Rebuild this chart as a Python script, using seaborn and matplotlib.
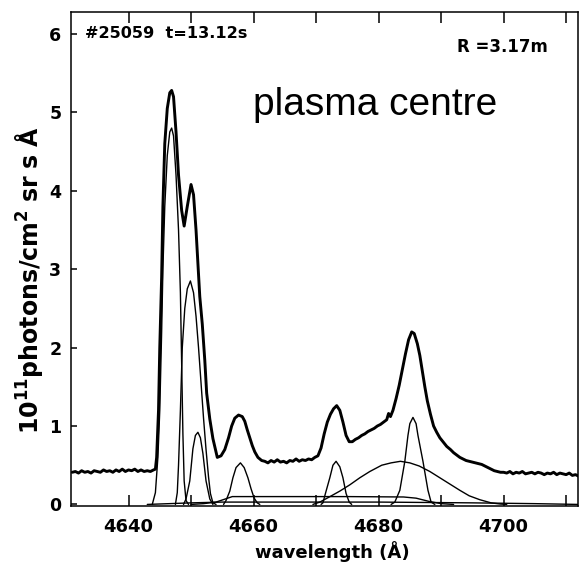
import numpy as np
import pandas as pd
import matplotlib
matplotlib.use("Agg")
import matplotlib.pyplot as plt
import seaborn as sns

# ---------------- data ----------------
spec_wl = [4631.0, 4631.5, 4632.0, 4632.5, 4633.0, 4633.5, 4634.0, 4634.5, 4635.0, 4635.5,
           4636.0, 4636.5, 4637.0, 4637.5, 4638.0, 4638.5, 4639.0, 4639.5, 4640.0, 4640.5,
           4641.0, 4641.5, 4642.0, 4642.5, 4643.0, 4643.5, 4644.0, 4644.3,
           4644.5, 4644.8, 4645.0, 4645.3, 4645.5, 4645.8, 4646.2, 4646.6, 4646.9, 4647.2,
           4647.6, 4648.0, 4648.5, 4648.9, 4649.4, 4650.0, 4650.4, 4650.8, 4651.4, 4651.8,
           4652.2, 4652.5, 4653.0, 4653.5, 4654.2, 4654.8, 4655.4, 4656.0, 4656.5, 4657.0,
           4657.6, 4658.2, 4658.6, 4659.0, 4659.4, 4659.8, 4660.2, 4660.7, 4661.3,
           4661.8, 4662.3, 4662.8, 4663.3, 4663.8, 4664.3, 4664.8, 4665.3, 4665.8, 4666.3,
           4666.8, 4667.3, 4667.8, 4668.3, 4668.8, 4669.3, 4669.8, 4670.3,
           4670.8, 4671.3, 4671.8, 4672.3, 4672.8, 4673.3, 4673.8, 4674.3, 4674.8, 4675.3,
           4675.8, 4676.3, 4676.8, 4677.3, 4677.8, 4678.3, 4678.8, 4679.3, 4679.8, 4680.3,
           4680.8, 4681.3, 4681.6, 4681.9, 4682.3, 4682.8, 4683.3, 4683.8, 4684.3, 4684.8,
           4685.3, 4685.7, 4686.2, 4686.6, 4687.0, 4687.4, 4687.8, 4688.3, 4688.8, 4689.3,
           4689.8, 4690.3, 4690.9, 4691.5, 4692.0, 4692.5, 4693.0, 4693.5, 4694.0, 4694.5,
           4695.0, 4695.5, 4696.0, 4696.5, 4697.0, 4697.5, 4698.0, 4698.5, 4699.0, 4699.5,
           4700.0, 4700.5, 4701.0, 4701.5, 4702.0, 4702.5, 4703.0, 4703.5, 4704.0, 4704.5,
           4705.0, 4705.5, 4706.0, 4706.5, 4707.0, 4707.5, 4708.0, 4708.5, 4709.0, 4709.5,
           4710.0, 4710.5, 4711.0, 4711.5, 4712.0]
spec_val = [0.41, 0.42, 0.40, 0.43, 0.41, 0.42, 0.40, 0.43, 0.42, 0.41,
            0.44, 0.42, 0.43, 0.41, 0.44, 0.42, 0.45, 0.42, 0.44, 0.43,
            0.45, 0.42, 0.44, 0.42, 0.43, 0.42, 0.44, 0.45,
            0.60, 1.20, 2.00, 2.90, 3.80, 4.60, 5.05, 5.25, 5.28, 5.20,
            4.75, 4.20, 3.75, 3.55, 3.80, 4.08, 3.95, 3.50, 2.65, 2.30,
            1.84, 1.42, 1.09, 0.84, 0.60, 0.62, 0.70, 0.85, 1.00, 1.10,
            1.14, 1.12, 1.06, 0.95, 0.85, 0.75, 0.67, 0.60, 0.56,
            0.55, 0.53, 0.56, 0.54, 0.57, 0.54, 0.55, 0.53, 0.56, 0.55,
            0.58, 0.55, 0.57, 0.56, 0.58, 0.57, 0.60, 0.62,
            0.72, 0.90, 1.05, 1.15, 1.22, 1.26, 1.20, 1.05, 0.88, 0.80,
            0.80, 0.83, 0.85, 0.88, 0.90, 0.93, 0.95, 0.97, 1.00, 1.02,
            1.05, 1.08, 1.16, 1.12, 1.20, 1.35, 1.52, 1.72, 1.92, 2.10,
            2.20, 2.18, 2.05, 1.90, 1.70, 1.50, 1.32, 1.15, 1.00, 0.92,
            0.85, 0.80, 0.74, 0.70, 0.66, 0.63, 0.60, 0.58, 0.56, 0.55,
            0.54, 0.53, 0.52, 0.51, 0.49, 0.47, 0.45, 0.43, 0.42, 0.41,
            0.41, 0.40, 0.42, 0.39, 0.41, 0.40, 0.42, 0.39, 0.40, 0.41,
            0.39, 0.41, 0.40, 0.38, 0.40, 0.39, 0.41, 0.38, 0.40, 0.39,
            0.38, 0.40, 0.37, 0.38, 0.36]

c1_wl = [4643.8, 4644.3, 4644.7, 4645.0, 4645.3, 4645.5, 4645.8, 4646.2, 4646.6, 4646.9,
         4647.2, 4647.6, 4648.0, 4648.3, 4648.5, 4648.7, 4648.9, 4649.2, 4649.6]
c1_val = [0.0, 0.15, 0.6, 1.2, 2.2, 3.0, 3.8, 4.45, 4.75, 4.8,
          4.7, 4.2, 3.5, 2.7, 1.8, 0.9, 0.3, 0.05, 0.0]

c2_wl = [4647.5, 4647.8, 4648.0, 4648.3, 4648.6, 4649.0, 4649.4, 4649.9, 4650.4, 4650.8,
         4651.2, 4651.6, 4652.0, 4652.4, 4652.8, 4653.1, 4653.5, 4654.0]
c2_val = [0.0, 0.15, 0.5, 1.2, 2.0, 2.5, 2.75, 2.85, 2.7, 2.4,
          2.0, 1.55, 1.1, 0.7, 0.35, 0.14, 0.02, 0.0]

c3_wl = [4648.8, 4649.2, 4649.8, 4650.3, 4650.7, 4651.1, 4651.5, 4651.9, 4652.4, 4653.0, 4653.5]
c3_val = [0.0, 0.07, 0.3, 0.71, 0.88, 0.92, 0.85, 0.65, 0.3, 0.07, 0.0]

c4_wl = [4655.2, 4655.6, 4656.2, 4656.7, 4657.2, 4657.9, 4658.5, 4659.1, 4659.6, 4660.1, 4660.6, 4661.0]
c4_val = [0.0, 0.05, 0.17, 0.34, 0.47, 0.53, 0.47, 0.34, 0.2, 0.08, 0.02, 0.0]

c5_wl = [4670.8, 4671.1, 4671.5, 4672.2, 4672.7, 4673.2, 4673.8, 4674.3, 4674.8, 4675.3, 4675.7]
c5_val = [0.0, 0.02, 0.14, 0.34, 0.5, 0.55, 0.48, 0.34, 0.14, 0.03, 0.0]

c6_wl = [4669.5, 4670.6, 4672.0, 4673.8, 4675.4, 4677.0, 4678.6, 4680.5, 4682.0, 4683.5,
         4685.0, 4686.5, 4688.2, 4689.8, 4691.4, 4693.0, 4694.5, 4696.2, 4698.0, 4699.5, 4700.5]
c6_val = [0.0, 0.03, 0.09, 0.17, 0.25, 0.34, 0.42, 0.5, 0.53, 0.55,
          0.53, 0.49, 0.42, 0.34, 0.26, 0.18, 0.11, 0.06, 0.02, 0.005, 0.0]

c7_wl = [4682.0, 4682.6, 4683.4, 4684.2, 4684.7, 4685.0, 4685.5, 4686.0, 4686.3, 4687.1, 4687.9, 4688.4, 4689.0]
c7_val = [0.0, 0.03, 0.18, 0.55, 0.88, 1.03, 1.11, 1.03, 0.88, 0.55, 0.18, 0.03, 0.0]

c8_wl = [4650.0, 4652.0, 4654.0, 4655.5, 4656.6, 4658.0, 4665.0, 4675.0, 4684.0, 4686.0, 4688.0, 4690.0, 4692.0]
c8_val = [0.0, 0.01, 0.03, 0.07, 0.1, 0.1, 0.1, 0.1, 0.095, 0.08, 0.04, 0.01, 0.0]

c9_wl = [4643.0, 4650.0, 4655.0, 4665.0, 4680.0, 4695.0, 4705.0, 4712.0]
c9_val = [0.0, 0.02, 0.03, 0.03, 0.03, 0.02, 0.01, 0.0]

x_ticks = [4640, 4660, 4680, 4700]
x_minor = [4650, 4670, 4690, 4710]
y_ticks = [0, 1, 2, 3, 4, 5, 6]

# ---------------- build tables ----------------
comps = {"c1": (c1_wl, c1_val), "c2": (c2_wl, c2_val), "c3": (c3_wl, c3_val),
         "c4": (c4_wl, c4_val), "c5": (c5_wl, c5_val), "c6": (c6_wl, c6_val),
         "c7": (c7_wl, c7_val), "c8": (c8_wl, c8_val), "c9": (c9_wl, c9_val)}
comp_df = pd.concat([pd.DataFrame({"wl": w, "val": v, "comp": k}) for k, (w, v) in comps.items()],
                    ignore_index=True)
spec_df = pd.DataFrame({"wl": spec_wl, "val": spec_val})

sns.set_style("ticks")
plt.rcParams["font.family"] = ["DejaVu Sans"]
plt.rcParams["mathtext.fontset"] = "dejavusans"
for k in ["text.color", "axes.labelcolor", "xtick.color", "ytick.color", "axes.edgecolor"]:
    plt.rcParams[k] = "black"

fig = plt.figure(figsize=(5.83, 5.70), dpi=100)
ax = fig.add_axes([71 / 583, 1 - 506 / 570, 507 / 583, 494 / 570])

sns.lineplot(data=comp_df, x="wl", y="val", units="comp", estimator=None, sort=False,
             color="black", linewidth=1.0, ax=ax)
sns.lineplot(data=spec_df, x="wl", y="val", estimator=None, sort=False,
             color="black", linewidth=2.1, ax=ax)

ax.set_xlim(4630.8, 4711.9)
ax.set_ylim(-0.02, 6.28)
ax.set_xticks(x_ticks)
ax.set_xticks(x_minor, minor=True)
ax.set_yticks(y_ticks)
ax.tick_params(axis="x", which="both", direction="in", top=True, length=8, width=1.1, pad=9,
               labelsize=13, colors="black")
ax.tick_params(axis="y", which="both", direction="in", right=False, length=4, width=1.1, pad=7,
               labelsize=12.5, colors="black")
for lab in ax.get_xticklabels() + ax.get_yticklabels():
    lab.set_fontweight("bold")
for s in ax.spines.values():
    s.set_linewidth(1.1)
    s.set_color("black")

ax.set_xlabel("wavelength (Å)", fontsize=13, fontweight="bold", color="black")
ax.xaxis.label.set_va("center")
ax.xaxis.set_label_coords((332 - 71) / 507, (506 - 552) / 494)
ax.set_ylabel(r"$\mathbf{10^{11}photons/cm^{2}\ sr\ s\ \AA}$", fontsize=17, color="black")
ax.yaxis.label.set_va("center")
ax.yaxis.set_label_coords((29 - 71) / 507, (506 - 280) / 494)

fig.text(85 / 583, 1 - 33 / 570, "#25059  t=13.12s", fontsize=11.6, fontweight="bold",
         va="center", ha="left", color="black")
fig.text(457 / 583, 1 - 47 / 570, "R =3.17m", fontsize=12, fontweight="bold",
         va="center", ha="left", color="black")
fig.text(253 / 583, 1 - 115 / 570, "plasma centre", fontsize=28, family="Liberation Sans",
         va="baseline", ha="left", color="black")

fig.savefig("out.png", dpi=100)
